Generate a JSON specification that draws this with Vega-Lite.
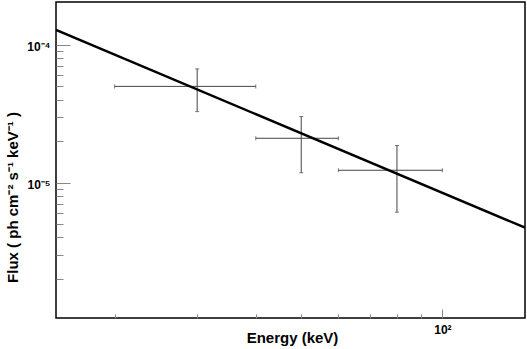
{
  "$schema": "https://vega.github.io/schema/vega-lite/v6.json",
  "width": 469,
  "height": 316,
  "autosize": {"type": "none"},
  "padding": {"left": 56, "top": 2, "right": 2, "bottom": 31},
  "background": "white",
  "config": {
    "view": {"stroke": "black", "strokeWidth": 1.5},
    "font": "Liberation Sans"
  },
  "datasets": {
    "model": [
      {"e": 15, "f": 0.0001285},
      {"e": 150, "f": 0.00000471}
    ],
    "points": [
      {"e": 30, "elo": 20, "ehi": 40, "f": 0.00005, "flo": 0.0000328, "fhi": 0.000067},
      {"e": 50, "elo": 40, "ehi": 60, "f": 0.000021, "flo": 0.0000118, "fhi": 0.0000302},
      {"e": 80, "elo": 60, "ehi": 100, "f": 0.0000123, "flo": 0.0000061, "fhi": 0.0000186}
    ]
  },
  "layer": [
    {
      "data": {"name": "points"},
      "mark": {"type": "rule", "color": "#444", "strokeWidth": 1},
      "encoding": {
        "x": {
          "field": "elo", "type": "quantitative",
          "scale": {"type": "log", "domain": [15, 150], "nice": false},
          "axis": {
            "title": "Energy (keV)",
            "values": [20, 30, 40, 50, 60, 70, 80, 90, 100],
            "labelExpr": "datum.value == 100 ? '10²' : ''",
            "tickSize": {"condition": {"test": "datum.value == 100", "value": -9}, "value": -4},
            "tickColor": "#888",
            "tickWidth": 1,
            "domain": false,
            "grid": false,
            "labelFont": "Liberation Sans",
            "labelFontWeight": "bold",
            "labelFontSize": 12,
            "labelColor": "black",
            "labelPadding": 15,
            "labelOverlap": false,
            "labelFlush": false,
            "titleFont": "Liberation Sans",
            "titleFontSize": 15,
            "titleFontWeight": "bold",
            "titleColor": "black",
            "titleX": 236,
            "titleY": 24,
            "titleBaseline": "alphabetic"
          }
        },
        "x2": {"field": "ehi"},
        "y": {
          "field": "f", "type": "quantitative",
          "scale": {"type": "log", "domain": [0.00000104, 0.000205], "nice": false},
          "axis": {
            "title": "Flux ( ph cm⁻² s⁻¹ keV⁻¹ )",
            "values": [0.000002, 0.000003, 0.000004, 0.000005, 0.000006, 0.000007, 0.000008, 0.000009, 0.00001, 0.00002, 0.00003, 0.00004, 0.00005, 0.00006, 0.00007, 0.00008, 0.00009, 0.0001],
            "labelExpr": "datum.value == 0.0001 ? '10⁻⁴' : datum.value == 0.00001 ? '10⁻⁵' : ''",
            "tickSize": {"condition": {"test": "datum.value == 0.0001 || datum.value == 0.00001", "value": -14}, "value": -7},
            "tickColor": "#888",
            "tickWidth": 1,
            "domain": false,
            "grid": false,
            "labelFont": "Liberation Sans",
            "labelFontWeight": "bold",
            "labelFontSize": 12,
            "labelColor": "black",
            "labelPadding": 20,
            "labelOffset": 2,
            "labelOverlap": false,
            "labelFlush": false,
            "titleFont": "Liberation Sans",
            "titleFontSize": 15,
            "titleFontWeight": "bold",
            "titleColor": "black",
            "titleX": -39,
            "titleY": 195,
            "titleBaseline": "alphabetic"
          }
        }
      }
    },
    {
      "data": {"name": "points"},
      "mark": {"type": "rule", "color": "#444", "strokeWidth": 1},
      "encoding": {
        "x": {"field": "e", "type": "quantitative"},
        "y": {"field": "flo", "type": "quantitative"},
        "y2": {"field": "fhi"}
      }
    },
    {
      "data": {"name": "points"},
      "mark": {"type": "tick", "color": "#444", "orient": "vertical", "size": 4, "thickness": 1},
      "encoding": {
        "x": {"field": "elo", "type": "quantitative"},
        "y": {"field": "f", "type": "quantitative"}
      }
    },
    {
      "data": {"name": "points"},
      "mark": {"type": "tick", "color": "#444", "orient": "vertical", "size": 4, "thickness": 1},
      "encoding": {
        "x": {"field": "ehi", "type": "quantitative"},
        "y": {"field": "f", "type": "quantitative"}
      }
    },
    {
      "data": {"name": "points"},
      "mark": {"type": "tick", "color": "#444", "orient": "horizontal", "size": 4, "thickness": 1},
      "encoding": {
        "x": {"field": "e", "type": "quantitative"},
        "y": {"field": "flo", "type": "quantitative"}
      }
    },
    {
      "data": {"name": "points"},
      "mark": {"type": "tick", "color": "#444", "orient": "horizontal", "size": 4, "thickness": 1},
      "encoding": {
        "x": {"field": "e", "type": "quantitative"},
        "y": {"field": "fhi", "type": "quantitative"}
      }
    },
    {
      "data": {"name": "model"},
      "mark": {"type": "line", "color": "black", "strokeWidth": 2.5, "clip": true},
      "encoding": {
        "x": {"field": "e", "type": "quantitative"},
        "y": {"field": "f", "type": "quantitative"}
      }
    }
  ]
}
